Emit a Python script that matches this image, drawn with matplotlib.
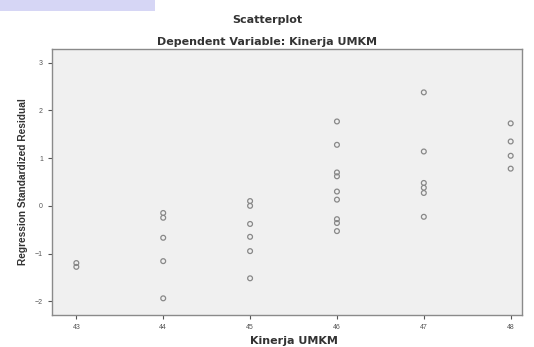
import matplotlib
matplotlib.use("Agg")
import matplotlib.pyplot as plt
from matplotlib.patches import Rectangle

plt.rcParams['font.family'] = ['Liberation Sans', 'DejaVu Sans']

# Kinerja UMKM (x) vs regression standardized residual (y)
kinerja = [43, 43,
           44, 44, 44, 44, 44,
           45, 45, 45, 45, 45, 45,
           46, 46, 46, 46, 46, 46, 46, 46, 46,
           47, 47, 47, 47, 47, 47,
           48, 48, 48, 48]
residual = [-1.2, -1.28,
            -0.15, -0.25, -0.67, -1.16, -1.94,
            0.1, 0.0, -0.38, -0.65, -0.95, -1.52,
            1.77, 1.28, 0.7, 0.62, 0.3, 0.13, -0.28, -0.36, -0.53,
            2.38, 1.14, 0.48, 0.38, 0.27, -0.23,
            1.73, 1.35, 1.05, 0.78]

x_ticks = [43, 44, 45, 46, 47, 48]
y_ticks = [-2, -1, 0, 1, 2, 3]

fig = plt.figure(figsize=(5.34, 3.47), dpi=100)
fig.patches.append(Rectangle((0, 0.968), 0.29, 0.032, transform=fig.transFigure,
                             facecolor='#d6d6f5', edgecolor='none'))

ax = fig.add_axes([0.0974, 0.0922, 0.8801, 0.7666])
ax.set_facecolor('#f0f0f0')
ax.scatter(kinerja, residual, s=12, facecolors='none', edgecolors='#888888', linewidths=0.9)

ax.set_xlim(42.72, 48.13)
ax.set_ylim(-2.29, 3.29)
ax.set_xticks(x_ticks)
ax.set_yticks(y_ticks)
ax.tick_params(labelsize=5, colors='#555555', length=3, width=0.8)
for s in ax.spines.values():
    s.set_color('#8a8a8a')
    s.set_linewidth(1)

bold_wide = ['DejaVu Sans']
ax.set_xlabel("Kinerja UMKM", fontsize=8, fontweight='bold', color='#333333',
              family=bold_wide, va='center')
ax.xaxis.set_label_coords(0.515, -0.098)
ax.set_ylabel("Regression Standardized Residual", fontsize=7.3, fontweight='bold',
              color='#333333', labelpad=5)
fig.text(0.5, 0.942, "Scatterplot", ha='center', va='center', fontsize=8,
         fontweight='bold', color='#333333', family=bold_wide)
fig.text(0.5, 0.879, "Dependent Variable: Kinerja UMKM", ha='center', va='center',
         fontsize=8, fontweight='bold', color='#333333', family=bold_wide)

fig.savefig("out.png", dpi=100)
